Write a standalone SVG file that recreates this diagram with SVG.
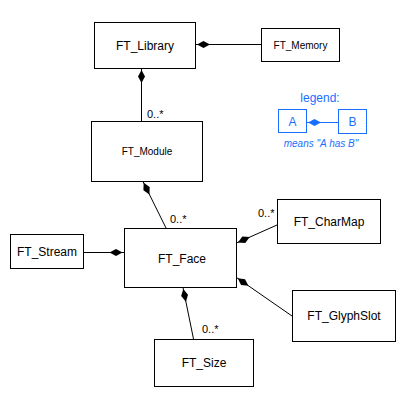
<svg xmlns="http://www.w3.org/2000/svg" width="411" height="405" viewBox="0 0 411 405">
<style>
.box{fill:#fff;stroke:#000;stroke-width:1}
.t{font-family:"Liberation Sans",Arial,sans-serif;font-size:12px;fill:#000;text-anchor:middle}
.s{font-size:10px}
.m{font-family:"Liberation Sans",Arial,sans-serif;font-size:11px;fill:#000}
.c{stroke:#000;stroke-width:1;fill:none;marker-start:url(#d)}
.lgt{font-family:"Liberation Sans",Arial,sans-serif;font-size:12px;fill:#1a6eff;text-anchor:middle}
.it{font-size:10px;font-style:italic}
</style>
<defs>
<marker id="d" markerUnits="userSpaceOnUse" markerWidth="16" markerHeight="8" viewBox="0 -4 16 8" refX="0" refY="0" orient="auto">
<path d="M1.5,0 L8,-3.5 L14.5,0 L8,3.5 Z" fill="#000"/>
</marker>
<marker id="db" markerUnits="userSpaceOnUse" markerWidth="16" markerHeight="8" viewBox="0 -4 16 8" refX="0" refY="0" orient="auto">
<path d="M1.5,0 L8,-3.5 L14.5,0 L8,3.5 Z" fill="#1a6eff"/>
</marker>
</defs>
<rect width="411" height="405" fill="#fff"/>
<g id="connectors">
<line class="c" x1="195.5" y1="44.5" x2="261" y2="44.5"/>
<line class="c" x1="141.5" y1="68.5" x2="141.5" y2="121"/>
<line class="c" x1="143" y1="181.5" x2="166" y2="228"/>
<line class="c" x1="124" y1="252.5" x2="83.5" y2="252.5"/>
<line class="c" x1="236.5" y1="243" x2="277" y2="225"/>
<line class="c" x1="236.5" y1="277.5" x2="292" y2="316"/>
<line class="c" x1="183" y1="287.5" x2="193.5" y2="339"/>
<text class="m" x="147" y="118">0..*</text>
<text class="m" x="170" y="223">0..*</text>
<text class="m" x="258" y="217">0..*</text>
<text class="m" x="202" y="333">0..*</text>
</g>
<g id="FT_Library"><rect class="box" x="94.5" y="22.5" width="101" height="46"/><text class="t" x="145" y="49.5">FT_Library</text></g>
<g id="FT_Memory"><rect class="box" x="261.5" y="28.5" width="78" height="33"/><text class="t s" x="300.5" y="48.5">FT_Memory</text></g>
<g id="FT_Module"><rect class="box" x="91.5" y="121.5" width="111" height="60"/><text class="t s" x="147" y="155">FT_Module</text></g>
<g id="FT_Face"><rect class="box" x="124.5" y="228.5" width="112" height="59"/><text class="t" x="182" y="263">FT_Face</text></g>
<g id="FT_Stream"><rect class="box" x="10.5" y="234.5" width="73" height="34"/><text class="t" x="47" y="256">FT_Stream</text></g>
<g id="FT_CharMap"><rect class="box" x="277.5" y="199.5" width="103" height="44"/><text class="t" x="329" y="226">FT_CharMap</text></g>
<g id="FT_GlyphSlot"><rect class="box" x="292.5" y="290.5" width="103" height="51"/><text class="t" x="344" y="320">FT_GlyphSlot</text></g>
<g id="FT_Size"><rect class="box" x="154.5" y="339.5" width="99" height="47"/><text class="t" x="204" y="367">FT_Size</text></g>
<g id="legend">
<text class="lgt" x="320" y="102">legend:</text>
<rect x="278.5" y="109.5" width="28" height="23" fill="#fff" stroke="#1a6eff"/>
<text class="lgt" x="292.5" y="126">A</text>
<rect x="338.5" y="109.5" width="28" height="24" fill="#fff" stroke="#1a6eff"/>
<text class="lgt" x="352.5" y="126">B</text>
<line x1="306.5" y1="122.5" x2="338" y2="122.5" stroke="#1a6eff" marker-start="url(#db)"/>
<text class="lgt it" x="321" y="147">means "A has B"</text>
</g>
</svg>
